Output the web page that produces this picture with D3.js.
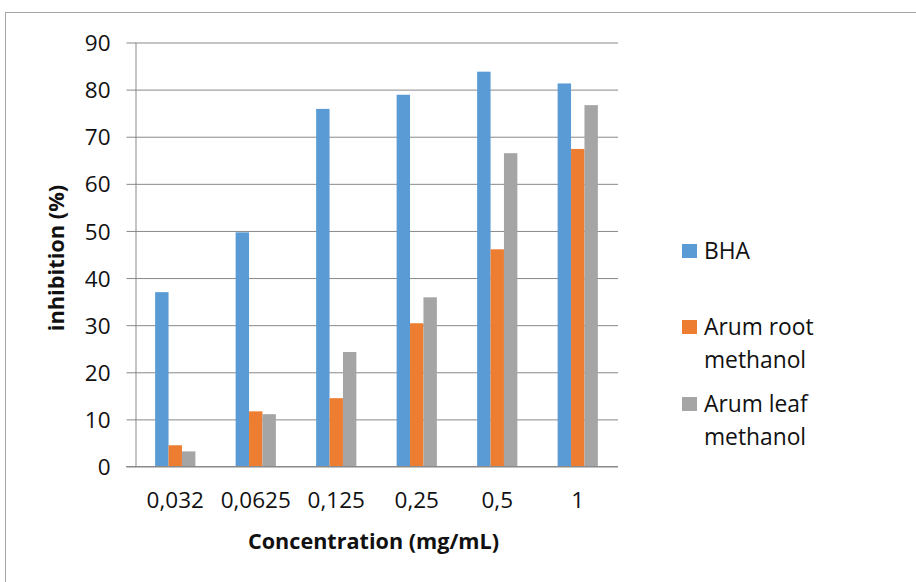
<!DOCTYPE html>
<html>
<head>
<meta charset="utf-8">
<script src="https://cdn.jsdelivr.net/npm/d3@7"></script>
<style>
  html, body { margin: 0; padding: 0; background: #fff; }
  svg { display: block; }
  text { font-family: "Open Sans", "Noto Sans", sans-serif; fill: #111; }
</style>
</head>
<body>
<svg id="chart" width="916" height="582"></svg>
<script>
// Concentrations tested (x categories)
const categories = ["0,032", "0,0625", "0,125", "0,25", "0,5", "1"];

// Series names
const seriesNames = ["BHA", "Arum root methanol", "Arum leaf methanol"];

// Inhibition (%) per concentration for each series
const bhaValues       = [36.9, 49.6, 75.8, 78.8, 83.7, 81.2];
const arumRootValues  = [4.4, 11.6, 14.4, 30.3, 46.0, 67.3];
const arumLeafValues  = [3.1, 11.0, 24.2, 35.8, 66.4, 76.6];

// Y axis ticks
const yTicks = [0, 10, 20, 30, 40, 50, 60, 70, 80, 90];

// Legend labels split into lines
const legendLines = [["BHA"], ["Arum root", "methanol"], ["Arum leaf", "methanol"]];

const seriesValues = [bhaValues, arumRootValues, arumLeafValues];
const colors = ["#5B9BD5", "#ED7D31", "#A5A5A5"];

const svg = d3.select("#chart");

// Outer chart frame
svg.append("rect")
  .attr("x", 5.5).attr("y", 12.5)
  .attr("width", 930).attr("height", 600)
  .attr("fill", "none")
  .attr("stroke", "#a6a6a6")
  .attr("stroke-width", 1);

const plot = { left: 135, right: 618, top: 42, bottom: 466 };

const x0 = d3.scaleBand()
  .domain(categories)
  .range([plot.left, plot.right])
  .paddingInner(0.5)
  .paddingOuter(0.25);

const x1 = d3.scaleBand()
  .domain(seriesNames)
  .range([0, x0.bandwidth()]);

const y = d3.scaleLinear()
  .domain([0, 90])
  .range([plot.bottom, plot.top]);

const gridColor = "#898989";

// Horizontal gridlines
const grid = svg.append("g")
  .attr("transform", `translate(${plot.left},0.5)`)
  .call(d3.axisLeft(y).tickValues(yTicks).tickSize(-(plot.right - plot.left)).tickFormat(""));
grid.select(".domain").remove();
grid.selectAll("line").attr("stroke", gridColor);

// Y axis with outside ticks and labels
const yAxis = svg.append("g")
  .attr("transform", `translate(${plot.left + 0.5},0.5)`)
  .call(d3.axisLeft(y).tickValues(yTicks).tickSizeInner(9).tickSizeOuter(0).tickPadding(16));
yAxis.select(".domain").attr("stroke", gridColor);
yAxis.selectAll("line").attr("stroke", gridColor);
yAxis.selectAll("text")
  .attr("font-size", "22.5px")
  .attr("font-family", "Open Sans, sans-serif")
  .attr("fill", "#111")
  .attr("dy", "0.36em");

// Bars
const groups = svg.append("g")
  .selectAll("g")
  .data(categories)
  .join("g")
  .attr("transform", d => `translate(${x0(d)},0)`);

groups.selectAll("rect")
  .data((d, i) => seriesNames.map((s, j) => ({ series: s, value: seriesValues[j][i], color: colors[j] })))
  .join("rect")
  .attr("x", d => x1(d.series))
  .attr("y", d => y(d.value))
  .attr("width", x1.bandwidth())
  .attr("height", d => y(0) - y(d.value))
  .attr("fill", d => d.color);

// X axis line (extends left to the tick length) and category labels
svg.append("line")
  .attr("x1", plot.left - 9).attr("x2", plot.right)
  .attr("y1", plot.bottom + 0.5).attr("y2", plot.bottom + 0.5)
  .attr("stroke", gridColor);

const xAxis = svg.append("g")
  .attr("transform", `translate(0,${plot.bottom})`)
  .call(d3.axisBottom(x0).tickSize(0).tickPadding(26).tickSizeOuter(0));
xAxis.select(".domain").remove();
xAxis.selectAll("text")
  .attr("font-size", "22.5px")
  .attr("font-family", "Open Sans, sans-serif")
  .attr("fill", "#111");

// Axis titles
svg.append("text")
  .attr("x", 373.5).attr("y", 549)
  .attr("text-anchor", "middle")
  .attr("font-size", "21.6px")
  .attr("font-weight", "bold")
  .text("Concentration (mg/mL)");

svg.append("text")
  .attr("transform", "translate(64,258) rotate(-90)")
  .attr("text-anchor", "middle")
  .attr("font-size", "21.8px")
  .attr("font-weight", "bold")
  .text("inhibition (%)");

// Legend
const legendTop = [259, 335, 412];
const lineHeight = 32.5;
const legend = svg.append("g");
legendLines.forEach((lines, i) => {
  legend.append("rect")
    .attr("x", 682).attr("y", legendTop[i] - 15)
    .attr("width", 15).attr("height", 14)
    .attr("fill", colors[i]);
  const t = legend.append("text")
    .attr("x", 704).attr("y", legendTop[i])
    .attr("font-size", "22.8px");
  lines.forEach((ln, k) => {
    t.append("tspan")
      .attr("x", 704)
      .attr("y", legendTop[i] + k * lineHeight)
      .text(ln);
  });
});
</script>
</body>
</html>
